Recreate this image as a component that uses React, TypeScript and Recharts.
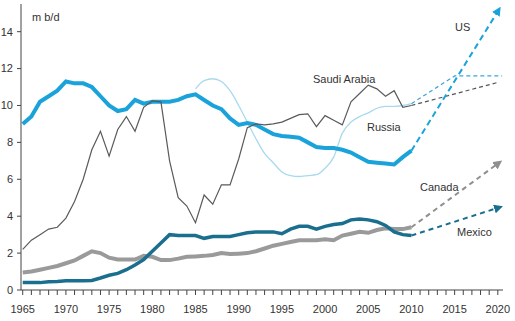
import React from 'react'
import { CartesianGrid, Line, LineChart, XAxis, YAxis } from 'recharts';

const years = Array.from({ length: 46 }, (_, i) => 1965 + i);

const usValues = [
  9.0, 9.4, 10.2, 10.5, 10.8, 11.3, 11.2, 11.2, 11.0, 10.5,
  10.0, 9.7, 9.8, 10.3, 10.1, 10.2, 10.2, 10.2, 10.3, 10.5,
  10.6, 10.3, 10.0, 9.8, 9.3, 8.95, 9.05, 8.95, 8.7, 8.45,
  8.35, 8.3, 8.25, 8.0, 7.75, 7.7, 7.7, 7.6, 7.45, 7.2,
  6.95, 6.9, 6.85, 6.8, 7.2, 7.55,
];

// russia only from 1985
const russiaValues = [
  10.9, 11.35, 11.45, 11.3, 10.8, 10.0, 9.1, 8.2, 7.4, 6.9,
  6.4, 6.2, 6.15, 6.2, 6.25, 6.6, 7.2, 8.5, 9.1, 9.4,
  9.6, 9.85, 9.95, 9.95, 10.0, 10.1,
];

const saudiValues = [
  2.2, 2.7, 3.0, 3.3, 3.4, 3.9, 4.8, 6.0, 7.6, 8.6,
  7.25, 8.7, 9.4, 8.6, 9.9, 10.25, 10.2, 7.0, 5.0, 4.55,
  3.65, 5.15, 4.65, 5.7, 5.7, 7.1, 8.8, 9.0, 8.95, 9.0,
  9.1, 9.3, 9.5, 9.55, 8.85, 9.45, 9.2, 8.95, 10.2, 10.65,
  11.1, 10.9, 10.5, 10.8, 9.9, 10.0,
];

const canadaValues = [
  0.95, 1.0, 1.1, 1.2, 1.3, 1.45, 1.6, 1.85, 2.1, 2.0,
  1.75, 1.65, 1.65, 1.65, 1.85, 1.8, 1.62, 1.62, 1.7, 1.8,
  1.82, 1.85, 1.9, 2.0, 1.95, 1.97, 2.0, 2.1, 2.25, 2.4,
  2.5, 2.6, 2.7, 2.7, 2.7, 2.75, 2.7, 2.95, 3.05, 3.15,
  3.1, 3.25, 3.35, 3.3, 3.3, 3.4,
];

const mexicoValues = [
  0.4, 0.4, 0.4, 0.45, 0.46, 0.5, 0.5, 0.5, 0.52, 0.65,
  0.8, 0.9, 1.1, 1.35, 1.65, 2.1, 2.55, 3.0, 2.95, 2.95,
  2.95, 2.8, 2.9, 2.9, 2.9, 3.0, 3.1, 3.15, 3.15, 3.15,
  3.05, 3.3, 3.45, 3.45, 3.3, 3.45, 3.55, 3.6, 3.8, 3.85,
  3.8, 3.7, 3.5, 3.15, 3.0, 2.95,
];

// projections
const usProj = [{ year: 2010, v: 7.55 }, { year: 2020, v: 15.1 }];
const russiaProj = [{ year: 2010, v: 10.1 }, { year: 2015, v: 11.6 }, { year: 2020.5, v: 11.6 }];
const saudiProj = [{ year: 2010, v: 10.0 }, { year: 2020, v: 11.25 }];
const canadaProj = [{ year: 2010, v: 3.4 }, { year: 2020, v: 6.85 }];
const mexicoProj = [{ year: 2010, v: 2.95 }, { year: 2020, v: 4.45 }];

const xTicks = Array.from({ length: 56 }, (_, i) => 1965 + i);
const yTicks = [0, 2, 4, 6, 8, 10, 12, 14];

const data = years.map((year, i) => ({
  year,
  us: usValues[i],
  russia: year >= 1985 ? russiaValues[year - 1985] : null,
  saudi: saudiValues[i],
  canada: canadaValues[i],
  mexico: mexicoValues[i],
}));

const font = '"Liberation Sans", Arial, sans-serif';
const lbl = { fontFamily: font, fontSize: 11, fill: '#333' };

const Arrow = ({ id, color }: any) => (
  <marker id={id} viewBox="0 0 10 10" refX="4" refY="5" markerWidth="9" markerHeight="9"
    markerUnits="userSpaceOnUse" orient="auto">
    <path d="M0,0 L10,5 L0,10 z" fill={color} />
  </marker>
);

export default function App() {
  return (
    <div style={{ position: 'absolute', left: 0, top: 0, background: '#fff' }}>
      <LineChart width={515} height={321} data={data}
        margin={{ top: 4, right: 12, left: 0, bottom: 0 }}>
        <defs>
          <Arrow id="arUS" color="#1aa3da" />
          <Arrow id="arCA" color="#8f8f8f" />
          <Arrow id="arMX" color="#1a6f8f" />
        </defs>
        <XAxis dataKey="year" type="number" domain={[1964.8, 2020.6]} ticks={xTicks} interval={0}
          tickFormatter={(v: number) => (v % 5 === 0 ? String(v) : '')}
          allowDataOverflow height={31} tickSize={5} tickMargin={10}
          stroke="#444" tick={{ ...lbl, fill: '#333' }} />
        <YAxis type="number" domain={[0, 15.5]} ticks={yTicks} width={21} tickSize={4} tickMargin={4}
          allowDataOverflow stroke="#444" tick={{ ...lbl, fill: '#333' }} />

        <Line type="monotone" dataKey="russia" stroke="#a9d9ee" strokeWidth={1.3} dot={false} isAnimationActive={false} />
        <Line type="linear" dataKey="us" stroke="#1aa3da" strokeWidth={4} dot={false} isAnimationActive={false} />
        <Line type="linear" dataKey="saudi" stroke="#5a5a5a" strokeWidth={1.2} dot={false} isAnimationActive={false} />
        <Line type="linear" dataKey="canada" stroke="#9a9a9a" strokeWidth={4} dot={false} isAnimationActive={false} />
        <Line type="linear" dataKey="mexico" stroke="#1a6f8f" strokeWidth={3.5} dot={false} isAnimationActive={false} />

        <Line data={russiaProj} dataKey="v" type="linear" stroke="#3aa6d6" strokeWidth={1.2} strokeDasharray="4 3" dot={false} isAnimationActive={false} />
        <Line data={saudiProj} dataKey="v" type="linear" stroke="#555" strokeWidth={1.2} strokeDasharray="4 3" dot={false} isAnimationActive={false} />
        <Line data={usProj} dataKey="v" type="linear" stroke="#1aa3da" strokeWidth={2} strokeDasharray="6 4" dot={false} markerEnd="url(#arUS)" isAnimationActive={false} />
        <Line data={canadaProj} dataKey="v" type="linear" stroke="#8f8f8f" strokeWidth={2} strokeDasharray="5 4" dot={false} markerEnd="url(#arCA)" isAnimationActive={false} />
        <Line data={mexicoProj} dataKey="v" type="linear" stroke="#1a6f8f" strokeWidth={2} strokeDasharray="5 4" dot={false} markerEnd="url(#arMX)" isAnimationActive={false} />

        <text x={32} y={21} style={lbl}>m b/d</text>
        <text x={455} y={31} style={lbl}>US</text>
        <text x={313} y={83} style={lbl}>Saudi Arabia</text>
        <text x={367} y={131} style={lbl}>Russia</text>
        <text x={420} y={191} style={lbl}>Canada</text>
        <text x={457} y={236} style={lbl}>Mexico</text>
      </LineChart>
    </div>
  );
}
